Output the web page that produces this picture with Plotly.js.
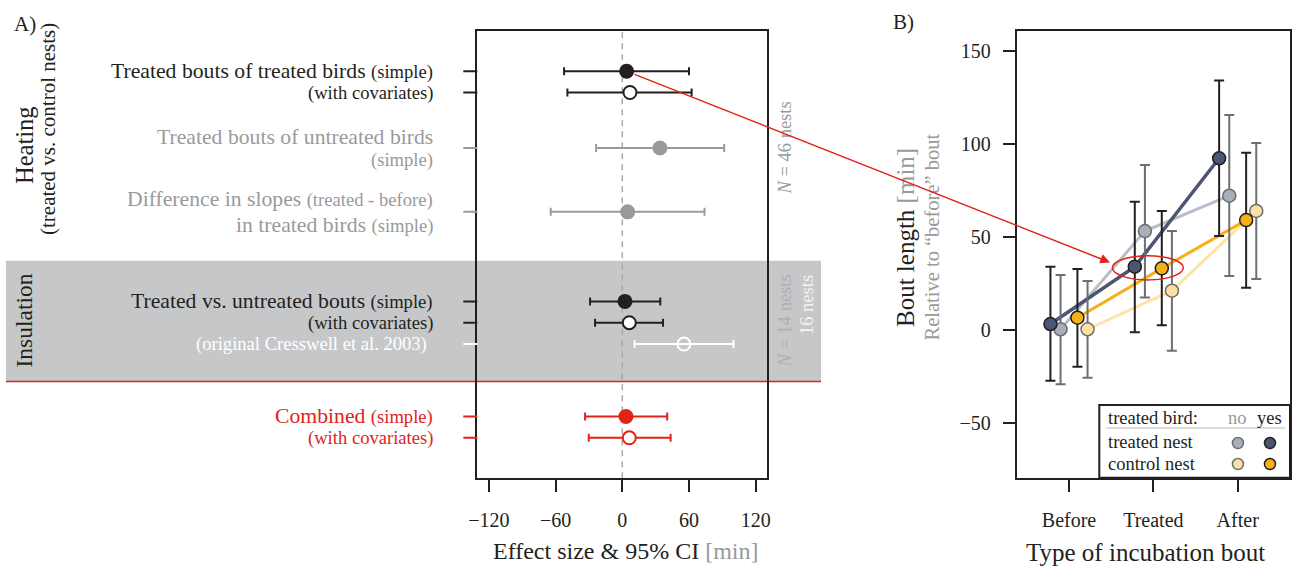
<!DOCTYPE html>
<html><head><meta charset="utf-8">
<script src="https://cdn.plot.ly/plotly-3.0.1.min.js"></script>
<style>html,body{margin:0;padding:0;background:#fff}</style>
</head><body>
<div id="chart" style="width:1293px;height:567px"></div>
<script>
// ===== Panel A data: effect sizes (minutes) with 95% CI =====
const effectEstimate = [3.9, 6.9, 33.9, 4.8, 2.4, 6.3, 55.5, 3.3, 6.3];
const effectLower    = [-52.4, -49.4, -23.6, -64.4, -29.0, -24.5, 11.1, -33.5, -30.2];
const effectUpper    = [60.0, 62.4, 91.7, 74.0, 34.2, 36.6, 100.1, 40.4, 43.5];
const effectTicks    = [-120, -60, 0, 60, 120];

// ===== Panel B data: bout length relative to "before" bout (minutes) =====
const boutTypes = ['Before', 'Treated', 'After'];
const treatedNestYes      = [3.2, 34.0, 92.2];
const treatedNestYesLower = [-27.2, -1.2, 50.5];
const treatedNestYesUpper = [34.0, 68.9, 134.0];
const treatedNestNo       = [0.4, 53.1, 72.1];
const treatedNestNoLower  = [-29.1, 17.5, 29.0];
const treatedNestNoUpper  = [29.5, 88.6, 115.4];
const controlNestYes      = [6.6, 33.1, 59.0];
const controlNestYesLower = [-19.7, 2.5, 22.7];
const controlNestYesUpper = [32.7, 63.9, 95.2];
const controlNestNo       = [0.4, 21.1, 63.9];
const controlNestNoLower  = [-25.6, -11.1, 27.4];
const controlNestNoUpper  = [26.3, 53.1, 100.4];
const boutTicks = [-50, 0, 50, 100, 150];

// ===== Layout helpers (not data) =====
const W = 1293, H = 567;
const px = v => v / W, py = v => 1 - v / H;
const FONT = 'Liberation Serif, Times New Roman, serif';
const DARK = '#231f20', GREY = '#999a9c', RED = '#e2231a', BAND = '#c6c7c9';
const BIG = 21.7, SMALL = 18.6;
const sm = t => '<span style="font-size:' + SMALL + 'px">' + t + '</span>';
const minus = v => v < 0 ? '\u2212' + Math.abs(v) : String(v);

// vertical row placement for panel A (layout)
const rowY = [19.1, 18.1, 15.5, 12.5, 8.3, 7.3, 6.3, 2.9, 1.9];
const rowStyle = [
  {c: DARK, fill: DARK, sym: 'circle'},
  {c: DARK, fill: '#ffffff', sym: 'circle'},
  {c: GREY, fill: GREY, sym: 'circle'},
  {c: GREY, fill: GREY, sym: 'circle'},
  {c: DARK, fill: DARK, sym: 'circle'},
  {c: DARK, fill: '#ffffff', sym: 'circle'},
  {c: '#ffffff', fill: '#ffffff', sym: 'circle-open'},
  {c: RED, fill: RED, sym: 'circle'},
  {c: RED, fill: '#ffffff', sym: 'circle'}
];

const traces = [];
effectEstimate.forEach((est, i) => {
  const s = rowStyle[i];
  traces.push({
    type: 'scatter', mode: 'markers', xaxis: 'x', yaxis: 'y',
    x: [est], y: [rowY[i]], cliponaxis: false, hoverinfo: 'skip',
    error_x: {type: 'data', symmetric: false, array: [effectUpper[i] - est],
              arrayminus: [est - effectLower[i]], color: s.c, thickness: 2, width: 4},
    marker: {size: 13, color: s.fill, symbol: s.sym, line: {color: s.c, width: 2}}
  });
});

// Panel B
const series = [
  {y: treatedNestNo,  lo: treatedNestNoLower,  hi: treatedNestNoUpper,  off: -0.10, line: '#b9bfca', fill: '#a9afba', edge: '#6d6e70', lw: 3},
  {y: controlNestNo,  lo: controlNestNoLower,  hi: controlNestNoUpper,  off: 0.22,  line: '#fde3a4', fill: '#fce1a0', edge: '#6d6e70', lw: 3},
  {y: controlNestYes, lo: controlNestYesLower, hi: controlNestYesUpper, off: 0.10,  line: '#f7b118', fill: '#f7b118', edge: DARK, lw: 3},
  {y: treatedNestYes, lo: treatedNestYesLower, hi: treatedNestYesUpper, off: -0.22, line: '#4b5673', fill: '#4b5673', edge: DARK, lw: 3.5}
];
series.forEach(s => {
  traces.push({type: 'scatter', mode: 'lines', xaxis: 'x2', yaxis: 'y2', hoverinfo: 'skip',
    x: boutTypes.map((b, k) => k + 1 + s.off), y: s.y, line: {color: s.line, width: s.lw}});
});
series.forEach(s => {
  traces.push({type: 'scatter', mode: 'markers', xaxis: 'x2', yaxis: 'y2', hoverinfo: 'skip',
    x: boutTypes.map((b, k) => k + 1 + s.off), y: s.y,
    error_y: {type: 'data', symmetric: false, array: s.y.map((v, k) => s.hi[k] - v),
              arrayminus: s.y.map((v, k) => v - s.lo[k]), color: s.edge, thickness: 2, width: 5},
    marker: {size: 13, color: s.fill, line: {color: s.edge, width: 1.5}}});
});
// legend symbols (in legend box space)
traces.push({type: 'scatter', mode: 'markers', xaxis: 'x3', yaxis: 'y3', hoverinfo: 'skip',
  x: [0.727, 0.895, 0.727, 0.895], y: [0.477, 0.477, 0.188, 0.188],
  marker: {size: 11, color: ['#a9afba', '#4b5673', '#fce1a0', '#f7b118'],
           line: {color: ['#6d6e70', DARK, '#6d6e70', DARK], width: 1.5}}});

// pixel geometry for arrow
const A = {x0: 477.3, x1: 767.3, y0: 30.7, y1: 478.3, r: [-130.5, 130.5], yr: [0, 21]};
const B = {x0: 1016.7, x1: 1290, y0: 30.7, y1: 477.7, r: [0.38, 3.62], yr: [-79.3, 160.7]};
const ax2px = (v, P) => P.x0 + (v - P.r[0]) / (P.r[1] - P.r[0]) * (P.x1 - P.x0);
const ay2px = (v, P) => P.y1 - (v - P.yr[0]) / (P.yr[1] - P.yr[0]) * (P.y1 - P.y0);
const head = {x: 1.486, y: 36.3};

const ann = [];
const lab = (text, y, opts) => ann.push(Object.assign({xref: 'paper', yref: 'y', x: px(435), y: y,
  xanchor: 'right', yanchor: 'middle', showarrow: false, text: text,
  font: {size: BIG, color: DARK}}, opts || {}));
lab('Treated bouts of treated birds ' + sm('(simple)'), rowY[0]);
lab('(with covariates)', rowY[1], {font: {size: SMALL, color: DARK}});
lab('Treated bouts of untreated birds', rowY[2] + 0.52, {font: {size: BIG, color: GREY}});
lab('(simple)', rowY[2] - 0.56, {font: {size: SMALL, color: GREY}});
lab('Difference in slopes ' + sm('(treated - before)'), rowY[3] + 0.6, {font: {size: BIG, color: GREY}});
lab('in treated birds ' + sm('(simple)'), rowY[3] - 0.6, {font: {size: BIG, color: GREY}});
lab('Treated vs. untreated bouts ' + sm('(simple)'), rowY[4]);
lab('(with covariates)', rowY[5], {font: {size: SMALL, color: DARK}});
lab('(original Cresswell et al. 2003)', rowY[6], {x: px(429), font: {size: SMALL, color: '#ffffff'}});
lab('Combined ' + sm('(simple)'), rowY[7], {font: {size: BIG, color: RED}});
lab('(with covariates)', rowY[8], {font: {size: SMALL, color: RED}});

const free = (text, x, y, size, color, opts) => ann.push(Object.assign({xref: 'paper', yref: 'paper',
  x: px(x), y: py(y), xanchor: 'center', yanchor: 'middle', showarrow: false, text: text,
  font: {size: size, color: color}}, opts || {}));
free('A)', 24.5, 24, 21, DARK);
free('B)', 903, 21.5, 21, DARK);
free('Heating', 25, 145, 24.5, DARK, {textangle: -90});
free('(treated vs. control nests)', 48, 129, 21, DARK, {textangle: -90});
free('Insulation', 23.5, 321, 23.5, DARK, {textangle: -90});
free('<i>N</i> = 46 nests', 785, 148.5, 18.5, GREY, {textangle: -90});
free('<i>N</i> = 14 nests', 785, 273, 18.5, '#aeafb1', {textangle: -90, yanchor: 'top'});
free('16 nests', 807, 273, 18.5, '#f4f4f4', {textangle: -90, yanchor: 'top'});
free('Effect size &amp; 95% CI <span style="color:#999a9c">[min]</span>', 625, 551, 24, DARK);
free('Type of incubation bout', 1145, 552, 25, DARK);
free('Bout length <span style="color:#999a9c">[min]</span>', 905, 238, 25, DARK, {textangle: -90});
free('Relative to \u201cbefore\u201d bout', 932, 236.5, 20.5, GREY, {textangle: -90});
// legend text
free('treated bird:', 1106, 418, 18.5, DARK, {xanchor: 'left'});
free('no', 1237, 418, 18.5, GREY);
free('yes', 1269, 418, 18.5, DARK);
free('treated nest', 1106, 442, 18.5, DARK, {xanchor: 'left'});
free('control nest', 1106, 463.5, 18.5, DARK, {xanchor: 'left'});
// arrow from panel A estimate to panel B treated points
ann.push({xref: 'x2', yref: 'y2', x: head.x, y: head.y, axref: 'pixel', ayref: 'pixel',
  ax: ax2px(effectEstimate[0], A) - ax2px(head.x, B), ay: ay2px(rowY[0], A) - ay2px(head.y, B),
  text: '', showarrow: true, arrowhead: 2, arrowsize: 1.3, arrowwidth: 1.5, arrowcolor: RED,
  standoff: 0, startstandoff: 7});

const shapes = [
  {type: 'rect', layer: 'below', xref: 'paper', yref: 'y', x0: px(6), x1: px(821), y0: 4.54, y1: 10.21,
   fillcolor: BAND, line: {width: 0}},
  {type: 'line', layer: 'below', xref: 'paper', yref: 'y', x0: px(6), x1: px(821), y0: 4.54, y1: 4.54,
   line: {color: RED, width: 1.5}},
  {type: 'line', layer: 'below', xref: 'x', yref: 'y domain', x0: 0, x1: 0, y0: 0, y1: 1,
   line: {color: '#aaaaaa', width: 1.5, dash: '6px,5px'}},
  {type: 'circle', layer: 'above', xref: 'x2', yref: 'y2', x0: 1.515, x1: 2.355, y0: 26.9, y1: 39.9,
   line: {color: RED, width: 1.5}},
  {type: 'rect', layer: 'below', xref: 'paper', yref: 'paper', x0: px(1099.3), x1: px(1290), y0: py(477.7), y1: py(405),
   fillcolor: '#ffffff', line: {color: DARK, width: 2}},
  {type: 'line', layer: 'below', xref: 'paper', yref: 'paper', x0: px(1106), x1: px(1285), y0: py(428), y1: py(428),
   line: {color: '#bbbbbb', width: 1}}
];
rowY.forEach((r, i) => shapes.push({type: 'line', layer: 'above', xref: 'x domain', yref: 'y',
  x0: -14 / 290, x1: 0, y0: r, y1: r, line: {color: rowStyle[i].c, width: 2}}));

const axBase = {showgrid: false, zeroline: false, showline: true, mirror: true, linewidth: 2, linecolor: DARK,
  ticks: 'outside', ticklen: 12, tickwidth: 2, tickcolor: DARK, fixedrange: true,
  tickfont: {size: 20, color: DARK, family: FONT}};

const layout = {
  width: W, height: H, margin: {l: 0, r: 0, t: 0, b: 0},
  paper_bgcolor: '#ffffff', plot_bgcolor: 'rgba(0,0,0,0)', showlegend: false,
  font: {family: FONT, color: DARK},
  xaxis: Object.assign({}, axBase, {domain: [px(A.x0), px(A.x1)], range: A.r, anchor: 'y',
    tickmode: 'array', tickvals: effectTicks, ticktext: effectTicks.map(minus), ticklabelstandoff: 11}),
  yaxis: Object.assign({}, axBase, {domain: [py(A.y1), py(A.y0)], range: A.yr, anchor: 'x',
    ticks: '', showticklabels: false}),
  xaxis2: Object.assign({}, axBase, {domain: [px(B.x0), px(B.x1)], range: B.r, anchor: 'y2',
    tickmode: 'array', tickvals: boutTypes.map((b, k) => k + 1), ticktext: boutTypes, ticklabelstandoff: 11}),
  yaxis2: Object.assign({}, axBase, {domain: [py(B.y1), py(B.y0)], range: B.yr, anchor: 'x2',
    tickmode: 'array', tickvals: boutTicks, ticktext: boutTicks.map(minus), ticklabelstandoff: 8}),
  xaxis3: {domain: [px(1099.3), px(1290)], range: [0, 1], anchor: 'y3', visible: false, fixedrange: true},
  yaxis3: {domain: [py(477.7), py(405)], range: [0, 1], anchor: 'x3', visible: false, fixedrange: true},
  annotations: ann, shapes: shapes
};

Plotly.newPlot('chart', traces, layout, {displayModeBar: false, staticPlot: true});
</script>
</body></html>
